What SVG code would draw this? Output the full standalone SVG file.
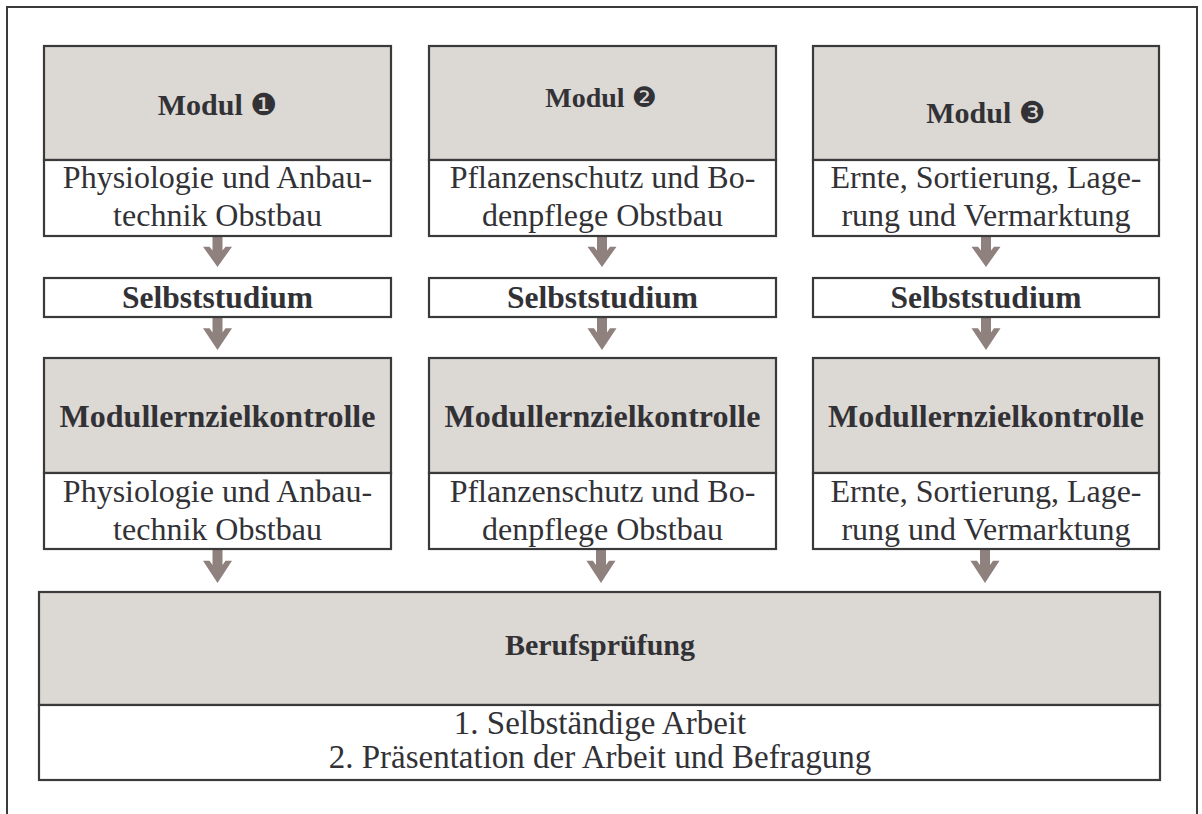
<svg xmlns="http://www.w3.org/2000/svg" xmlns:xlink="http://www.w3.org/1999/xlink" width="1202" height="814" viewBox="0 0 1202 814">
<style>
.frame{fill:none;stroke:#3a3a3a;stroke-width:2}
.hd{fill:#dcd8d4;stroke:#3a3a3a;stroke-width:2.2}
.bd{fill:#ffffff;stroke:#3a3a3a;stroke-width:2.2}
.t{font-family:"Liberation Serif","Times New Roman",serif;fill:#323236;text-anchor:middle}
.b{font-weight:bold}
.r{font-size:32px}
.dg{font-family:"DejaVu Sans",sans-serif;font-weight:normal}
.arr{fill:#8f817d}
</style>
<defs>
<path id="arrow" d="M -5 0 H 5 V 15 L 8 11 H 14.5 L 0 32 L -14.5 11 H -8 L -5 15 Z"/>
</defs>
<rect x="7" y="7" width="1190" height="830" class="frame"/>
<g id="connectors" class="arr">
<use xlink:href="#arrow" transform="translate(217.5,236) scale(1,0.97)"/>
<use xlink:href="#arrow" transform="translate(602,236) scale(1,0.97)"/>
<use xlink:href="#arrow" transform="translate(986,236) scale(1,0.97)"/>
<use xlink:href="#arrow" transform="translate(217.5,317) scale(1,1.03)"/>
<use xlink:href="#arrow" transform="translate(602,317) scale(1,1.03)"/>
<use xlink:href="#arrow" transform="translate(986,317) scale(1,1.03)"/>
<use xlink:href="#arrow" transform="translate(217.5,549) scale(1,1.06)"/>
<use xlink:href="#arrow" transform="translate(601,549) scale(1,1.06)"/>
<use xlink:href="#arrow" transform="translate(985,549) scale(1,1.06)"/>
</g>
<g id="modul1">
<rect x="44" y="46" width="347" height="114" class="hd"/>
<rect x="44" y="160" width="347" height="76" class="bd"/>
<text x="217.5" y="115" class="t b" font-size="30">Modul <tspan class="dg">❶</tspan></text>
<text x="217.5" y="188" class="t r">Physiologie und Anbau-</text>
<text x="217.5" y="226" class="t r">technik Obstbau</text>
</g>
<g id="modul2">
<rect x="429" y="46" width="347" height="114" class="hd"/>
<rect x="429" y="160" width="347" height="76" class="bd"/>
<text x="601" y="107" class="t b" font-size="28">Modul <tspan class="dg">❷</tspan></text>
<text x="602.5" y="188" class="t r">Pflanzenschutz und Bo-</text>
<text x="602.5" y="226" class="t r">denpflege Obstbau</text>
</g>
<g id="modul3">
<rect x="813" y="46" width="346" height="114" class="hd"/>
<rect x="813" y="160" width="346" height="76" class="bd"/>
<text x="986" y="123" class="t b" font-size="30">Modul <tspan class="dg">❸</tspan></text>
<text x="986" y="188" class="t r">Ernte, Sortierung, Lage-</text>
<text x="986" y="226" class="t r">rung und Vermarktung</text>
</g>
<g id="selbst1">
<rect x="44" y="278" width="347" height="39" class="bd"/>
<text x="217.5" y="308" class="t b" font-size="31.5">Selbststudium</text>
</g>
<g id="selbst2">
<rect x="429" y="278" width="347" height="39" class="bd"/>
<text x="602.5" y="308" class="t b" font-size="31.5">Selbststudium</text>
</g>
<g id="selbst3">
<rect x="813" y="278" width="346" height="39" class="bd"/>
<text x="986" y="308" class="t b" font-size="31.5">Selbststudium</text>
</g>
<g id="kontrolle1">
<rect x="44" y="358" width="347" height="115" class="hd"/>
<rect x="44" y="473" width="347" height="76" class="bd"/>
<text x="217.5" y="427" class="t b" font-size="32">Modullernzielkontrolle</text>
<text x="217.5" y="502" class="t r">Physiologie und Anbau-</text>
<text x="217.5" y="540" class="t r">technik Obstbau</text>
</g>
<g id="kontrolle2">
<rect x="429" y="358" width="347" height="115" class="hd"/>
<rect x="429" y="473" width="347" height="76" class="bd"/>
<text x="602.5" y="427" class="t b" font-size="32">Modullernzielkontrolle</text>
<text x="602.5" y="502" class="t r">Pflanzenschutz und Bo-</text>
<text x="602.5" y="540" class="t r">denpflege Obstbau</text>
</g>
<g id="kontrolle3">
<rect x="813" y="358" width="346" height="115" class="hd"/>
<rect x="813" y="473" width="346" height="76" class="bd"/>
<text x="986" y="427" class="t b" font-size="32">Modullernzielkontrolle</text>
<text x="986" y="502" class="t r">Ernte, Sortierung, Lage-</text>
<text x="986" y="540" class="t r">rung und Vermarktung</text>
</g>
<g id="berufspruefung">
<rect x="39" y="592" width="1121" height="113" class="hd"/>
<rect x="39" y="705" width="1121" height="75" class="bd"/>
<text x="600" y="655" class="t b" font-size="30">Berufsprüfung</text>
<text x="600" y="734" class="t" font-size="33">1. Selbständige Arbeit</text>
<text x="600" y="768" class="t" font-size="33">2. Präsentation der Arbeit und Befragung</text>
</g>
</svg>
